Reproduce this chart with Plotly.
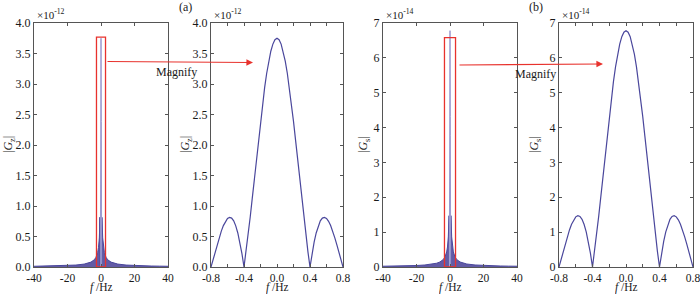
import plotly.graph_objects as go

# ---------------- data ----------------
# magnified panels: frequency (Hz) and |G| (in units of 1e-12 for (a), 1e-14 for (b))
F_ZOOM = [-0.8, -0.775, -0.75, -0.725, -0.7, -0.675, -0.65, -0.625, -0.6, -0.575, -0.55, -0.525,
          -0.5, -0.475, -0.45, -0.425, -0.4, -0.375, -0.35, -0.325, -0.3, -0.275, -0.25, -0.225,
          -0.2, -0.175, -0.15, -0.125, -0.1, -0.075, -0.05, -0.025, 0.0,
          0.025, 0.05, 0.075, 0.1, 0.125, 0.15, 0.175, 0.2, 0.225, 0.25, 0.275, 0.3, 0.325, 0.35,
          0.375, 0.4, 0.425, 0.45, 0.475, 0.5, 0.525, 0.55, 0.575, 0.6, 0.625, 0.65, 0.675, 0.7,
          0.725, 0.75, 0.775, 0.8]
GZ_ZOOM = [0.0, 0.120, 0.244, 0.366, 0.482, 0.588, 0.679, 0.749, 0.796, 0.814, 0.802, 0.756,
           0.675, 0.558, 0.406, 0.219, 0.0, 0.248, 0.522, 0.816, 1.125, 1.444, 1.764, 2.081,
           2.387, 2.676, 2.941, 3.176, 3.376, 3.537, 3.654, 3.726, 3.750,
           3.726, 3.654, 3.537, 3.376, 3.176, 2.941, 2.676, 2.387, 2.081, 1.764, 1.444, 1.125,
           0.816, 0.522, 0.248, 0.0, 0.219, 0.406, 0.558, 0.675, 0.756, 0.802, 0.814, 0.796,
           0.749, 0.679, 0.588, 0.482, 0.366, 0.244, 0.120, 0.0]
GS_ZOOM = [0.0, 0.217, 0.441, 0.662, 0.871, 1.063, 1.228, 1.354, 1.439, 1.472, 1.450, 1.367,
           1.220, 1.009, 0.734, 0.396, 0.0, 0.448, 0.944, 1.475, 2.034, 2.611, 3.189, 3.763,
           4.316, 4.838, 5.317, 5.742, 6.104, 6.395, 6.607, 6.737, 6.780,
           6.737, 6.607, 6.395, 6.104, 5.742, 5.317, 4.838, 4.316, 3.763, 3.189, 2.611, 2.034,
           1.475, 0.944, 0.448, 0.0, 0.396, 0.734, 1.009, 1.220, 1.367, 1.450, 1.472, 1.439,
           1.354, 1.228, 1.063, 0.871, 0.662, 0.441, 0.217, 0.0]

# wide panels: envelope of the dense side-lobes (|f| in Hz)
F_ENV = [0.57, 1.0, 1.5, 2.0, 3.0, 4.0, 6.0, 8.0, 10.0, 15.0, 20.0, 25.0, 30.0, 35.0, 40.0]
GZ_ENV = [0.814, 0.478, 0.318, 0.239, 0.159, 0.119, 0.080, 0.060, 0.048, 0.032, 0.024, 0.019,
          0.016, 0.014, 0.012]
GS_ENV = [1.472, 0.864, 0.575, 0.432, 0.288, 0.216, 0.144, 0.108, 0.086, 0.058, 0.043, 0.035,
          0.029, 0.025, 0.022]

# main-lobe part (|f| <= 0.4)
F_MAIN = F_ZOOM[16:49]
GZ_MAIN = GZ_ZOOM[16:49]
GS_MAIN = GS_ZOOM[16:49]

X_WIDE_TICKS = [-40, -20, 0, 20, 40]
X_ZOOM_TICKS = [-0.8, -0.4, 0.0, 0.4, 0.8]
X_ZOOM_LABELS = ["-0.8", "-0.4", "0.0", "0.4", "0.8"]
YA_TICKS = [0, 0.5, 1.0, 1.5, 2.0, 2.5, 3.0, 3.5, 4.0]
YB_TICKS = [0, 1, 2, 3, 4, 5, 6, 7]

# ---------------- style ----------------
W, H = 700, 295
LINE = "#4a479c"
MAIN_LIGHT = "#9a98cf"
FILL = "rgba(70,62,150,0.85)"
RED = "#e8322d"
AX = "#555555"
FONT = "Liberation Serif"
TXT = "#1a1a1a"

PLOT_TOP, PLOT_BOT = 23, 267
ydom = [(H - PLOT_BOT) / H, (H - PLOT_TOP) / H]
xdoms = [(34, 168), (211, 343), (383, 517), (559, 693)]

fig = go.Figure()


def wide_traces(env, main, main_zoom, xa, ya):
    lf = [-f for f in reversed(F_ENV)] + F_ZOOM[:17]
    lg = list(reversed(env)) + main_zoom[:17]
    rf = F_ZOOM[48:] + F_ENV
    rg = main_zoom[48:] + env
    for xs, ys in ((lf, lg), (rf, rg)):
        fig.add_trace(go.Scatter(x=xs, y=ys, mode="lines", line=dict(color=LINE, width=1),
                                 fill="tozeroy", fillcolor=FILL, xaxis=xa, yaxis=ya,
                                 showlegend=False, hoverinfo="skip"))
    fig.add_trace(go.Scatter(x=F_MAIN, y=main, mode="lines", line=dict(color=MAIN_LIGHT, width=1),
                             xaxis=xa, yaxis=ya, showlegend=False, hoverinfo="skip"))


wide_traces(GZ_ENV, GZ_MAIN, GZ_ZOOM, "x", "y")
fig.add_trace(go.Scatter(x=F_ZOOM, y=GZ_ZOOM, mode="lines", line=dict(color=LINE, width=1.2),
                         xaxis="x2", yaxis="y2", showlegend=False))
wide_traces(GS_ENV, GS_MAIN, GS_ZOOM, "x3", "y3")
fig.add_trace(go.Scatter(x=F_ZOOM, y=GS_ZOOM, mode="lines", line=dict(color=LINE, width=1.2),
                         xaxis="x4", yaxis="y4", showlegend=False))

common_ax = dict(showline=True, linecolor=AX, linewidth=1, mirror="ticks", ticks="inside",
                 ticklen=3, tickcolor=AX, showgrid=False, zeroline=False, automargin=False,
                 ticklabeloverflow="allow",
                 tickfont=dict(family=FONT, size=12, color=TXT))

layout = dict(width=W, height=H, margin=dict(l=0, r=0, t=0, b=0, autoexpand=False),
              paper_bgcolor="white", plot_bgcolor="white", showlegend=False)

for i, (x0, x1) in enumerate(xdoms):
    n = "" if i == 0 else str(i + 1)
    xa = dict(common_ax, domain=[x0 / W, x1 / W], anchor="y" + n)
    ya = dict(common_ax, domain=ydom, anchor="x" + n)
    if i in (0, 2):
        xa.update(range=[-40, 40], tickvals=X_WIDE_TICKS, ticktext=[str(v) for v in X_WIDE_TICKS])
    else:
        xa.update(range=[-0.8, 0.8], tickvals=X_ZOOM_TICKS, ticktext=X_ZOOM_LABELS,
                  minor=dict(dtick=0.2, tick0=0, ticks="inside", ticklen=3, tickcolor=AX))
    xa["tickfont"] = dict(family=FONT, size=11.5, color=TXT)
    if i in (0, 1):
        ya.update(range=[0, 4.0], tickvals=YA_TICKS, ticktext=[f"{v:.1f}" for v in YA_TICKS])
    else:
        ya.update(range=[0, 7], tickvals=YB_TICKS, ticktext=[str(v) for v in YB_TICKS])
    layout["xaxis" + n] = xa
    layout["yaxis" + n] = ya

fig.update_layout(**layout)

# red magnify rectangles
fig.add_shape(type="rect", xref="x", yref="y", x0=-2.7, x1=2.7, y0=0, y1=3.77,
              line=dict(color=RED, width=1.3))
fig.add_shape(type="rect", xref="x3", yref="y3", x0=-3.3, x1=3.3, y0=0, y1=6.58,
              line=dict(color=RED, width=1.3))

C = dict(xanchor="center", yanchor="middle")
ann = []
for (tx, ty), (sx, sy) in (((253, 62.5), (106, 61.5)), ((603, 64), (458, 65))):
    ann.append(dict(x=tx / W, y=(H - ty) / H, xref="paper", yref="paper", text="",
                    showarrow=True, ax=sx - tx, ay=sy - ty, arrowhead=2, arrowsize=1.1,
                    arrowwidth=1.2, arrowcolor=RED, standoff=0, startstandoff=0, **C))
for (cx, cy) in ((177, 72), (535, 74)):
    ann.append(dict(x=cx / W, y=(H - cy) / H, xref="paper", yref="paper", text="Magnify",
                    showarrow=False, font=dict(family=FONT, size=12, color=TXT), **C))
for (cx, cy, t) in ((185, 7, "(a)"), (536, 7, "(b)")):
    ann.append(dict(x=cx / W, y=(H - cy) / H, xref="paper", yref="paper", text=t,
                    showarrow=False, font=dict(family=FONT, size=12, color=TXT), **C))
for i, e in enumerate(["-12", "-12", "-14", "-14"]):
    n = "" if i == 0 else str(i + 1)
    ann.append(dict(x=0, y=1, xref="x" + n + " domain", yref="y" + n + " domain",
                    xanchor="left", yanchor="bottom", yshift=0, xshift=1,
                    text="×10<sup>" + e + "</sup>", showarrow=False,
                    font=dict(family=FONT, size=11, color=TXT)))
for cx, t in ((9, "|<i>G</i><sub>z</sub>|"), (186, "|<i>G</i><sub>z</sub>|"),
              (364, "|<i>G</i><sub>s</sub>|"), (535, "|<i>G</i><sub>s</sub>|")):
    ann.append(dict(x=cx / W, y=(H - 145) / H, xref="paper", yref="paper", text=t,
                    textangle=-90, showarrow=False, font=dict(family=FONT, size=12, color=TXT),
                    **C))
for cx in (101, 277, 450, 626):
    ann.append(dict(x=cx / W, y=(H - 287.5) / H, xref="paper", yref="paper",
                    text="<i>f</i> /Hz", showarrow=False, height=13,
                    font=dict(family=FONT, size=11.5, color=TXT), **C))

fig.update_layout(annotations=ann)
fig.write_html("out.html", config={"displayModeBar": False},
               post_script="document.body.style.margin='0';document.body.style.overflow='hidden';")
